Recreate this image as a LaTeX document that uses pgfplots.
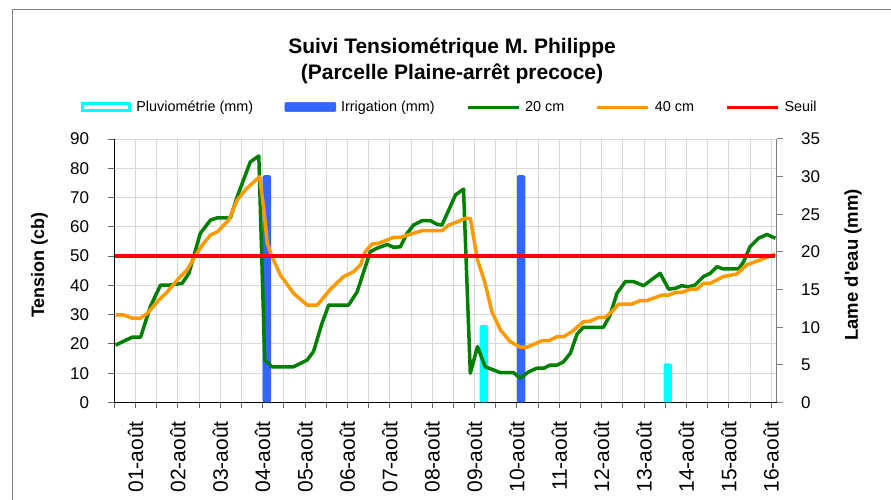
\documentclass[border=0pt]{standalone}
\usepackage{pgfplots}
\pgfplotsset{compat=1.18}
\usepackage{fontspec}
\setmainfont{Liberation Sans}

\definecolor{cyanx}{HTML}{00FFFF}
\definecolor{blueirr}{HTML}{3366FF}
\definecolor{green20}{HTML}{008000}
\definecolor{orange40}{HTML}{FF9900}
\definecolor{redseuil}{HTML}{FF0000}
\definecolor{gridc}{HTML}{D9D9D9}
\definecolor{framec}{HTML}{808080}

\pgfplotsset{
  base/.style={at={(114.3pt,97.5pt)}, anchor=south west, scale only axis,
    width=662.4pt, height=263.5pt, xmin=0.5, xmax=16.13},
}

\begin{document}
\begin{tikzpicture}[x=1pt,y=1pt]
\path[use as bounding box] (0,0) rectangle (891,500);
\draw[framec, line width=1.5pt] (12.3,-2) -- (12.3,490.7) -- (893,490.7);

% Axis A: left scale, grid, ticks
\begin{axis}[base, ymin=0, ymax=90,
  axis x line*=bottom, axis y line*=left,
  xtick={1,...,16}, minor xtick={0.5,1.5,...,15.5},
  xticklabels={01-août,02-août,03-août,04-août,05-août,06-août,07-août,08-août,09-août,10-août,11-août,12-août,13-août,14-août,15-août,16-août},
  ytick={0,10,...,90},
  grid=both,
  major grid style={gridc, line width=0.9pt},
  minor grid style={gridc, line width=0.9pt},
  tick align=outside, major tick length=6pt, minor tick length=6pt,
  tick style={color=black!60, line width=0.9pt},
  axis line style={black, line width=1pt},
  x tick label style={yshift=-12.5pt, rotate=90, anchor=east, inner sep=0pt, font=\fontsize{21}{21}\selectfont},
  y tick label style={anchor=east, inner sep=0pt, xshift=-19pt, font=\fontsize{17}{17}\selectfont},
  /pgf/number format/assume math mode=true,
]
\addplot[draw=none] coordinates {(1,0)};
\end{axis}

% Axis B: right scale, bars
\begin{axis}[base, ymin=0, ymax=35,
  axis x line=none, axis y line*=right,
  ytick={0,5,...,35},
  tick align=outside, major tick length=6pt,
  ytick style={color=framec, line width=1pt},
  y axis line style={framec, line width=1.5pt},
  y tick label style={anchor=west, inner sep=0pt, xshift=18.3pt, font=\fontsize{17}{17}\selectfont},
  /pgf/number format/assume math mode=true,
]
\addplot[ybar, bar shift=0pt, bar width=8.3pt, fill=cyanx, draw=none, rounded corners=2pt] coordinates {(9.22,10.3) (13.56,5.2)};
\addplot[ybar, bar shift=0pt, bar width=8.3pt, fill=blueirr, draw=none, rounded corners=2pt] coordinates {(4.10,30.2) (10.10,30.2)};
\end{axis}

% Axis C: lines and legend
\begin{axis}[base, ymin=0, ymax=90, hide axis,
  legend columns=5,
  legend style={at={(0.5068,1.1214)}, anchor=center, draw=none, fill=none,
    font=\fontsize{14.4}{16}\selectfont,
    /tikz/every odd column/.append style={column sep=3pt},
    /tikz/every even column/.append style={column sep=29.5pt}},
  legend image code/.code={\draw[#1, line width=3pt] (0pt,0pt) -- (51pt,0pt);},
]
\addlegendimage{legend image code/.code={\draw[draw=cyanx, line width=3pt, fill=white] (1.5pt,-3.1pt) rectangle (48.5pt,3.1pt);}}
\addlegendentry{Pluviométrie (mm)}
\addlegendimage{legend image code/.code={\fill[blueirr, rounded corners=1pt] (0pt,-4.6pt) rectangle (51pt,4.6pt);}}
\addlegendentry{Irrigation (mm)}

\addplot[green20, line width=3.5pt, line join=round] coordinates {
(0.53,19.6) (0.92,22.3) (1.12,22.3) (1.35,32.7) (1.59,40.1) (1.79,40.1) (2.1,40.7) (2.26,44.1) (2.53,57.8) (2.77,62.3) (2.93,63.1) (3.24,63.1) (3.4,70.3) (3.71,82.2) (3.91,84.2) (4.05,14.5) (4.22,12.2) (4.73,12.2) (5.05,14.5) (5.2,17.4) (5.4,27) (5.56,33.3) (6.03,33.3) (6.23,37.8) (6.54,51.5) (6.7,52.7) (6.94,54) (7.09,53) (7.25,53.2) (7.41,57.8) (7.56,60.6) (7.76,62.1) (7.96,62.1) (8.11,60.9) (8.23,60.6) (8.39,65.7) (8.55,70.9) (8.74,72.9) (8.9,10) (9.07,19.1) (9.25,12.2) (9.61,10.2) (9.92,10.2) (10.08,8.3) (10.28,10.5) (10.47,11.7) (10.63,11.7) (10.79,12.8) (10.95,12.8) (11.1,13.9) (11.26,16.8) (11.42,23.4) (11.57,25.7) (12.04,25.7) (12.2,29.9) (12.36,37.3) (12.56,41.3) (12.75,41.3) (12.99,39.9) (13.19,42.1) (13.38,44.1) (13.58,38.7) (13.74,39) (13.89,39.9) (14.05,39.5) (14.2,40.1) (14.4,43) (14.56,44.1) (14.72,46.4) (14.87,45.6) (15.23,45.6) (15.35,48.1) (15.5,53.2) (15.7,56.1) (15.9,57.4) (16.1,56.1)
};
\addlegendentry{20 cm}

\addplot[orange40, line width=3.5pt, line join=round] coordinates {
(0.53,29.9) (0.72,29.9) (0.92,28.8) (1.12,28.8) (1.28,30.5) (1.55,35) (1.75,37.8) (2.02,42.4) (2.22,45.3) (2.45,51) (2.61,54.4) (2.77,57.2) (2.93,58.3) (3.2,62.3) (3.4,69.2) (3.63,73.2) (3.93,77.1) (4.03,65.7) (4.11,54.4) (4.22,49.8) (4.42,43.5) (4.73,37.3) (5.05,33.3) (5.29,33.3) (5.6,38.7) (5.91,43) (6.15,44.7) (6.31,47) (6.42,51.5) (6.58,54.1) (6.74,54.4) (7.09,56.4) (7.25,56.4) (7.49,57.5) (7.76,58.7) (8.23,58.7) (8.39,60.6) (8.59,61.7) (8.78,62.9) (8.9,62.9) (9.07,48.7) (9.25,40.7) (9.41,31) (9.61,24.8) (9.84,20.8) (10.08,18.9) (10.24,18.9) (10.59,21.1) (10.75,21.1) (10.95,22.5) (11.1,22.5) (11.3,24.2) (11.57,27.6) (11.73,27.8) (11.93,29.1) (12.08,29.1) (12.24,31) (12.4,33.6) (12.71,33.6) (12.91,34.8) (13.07,34.8) (13.42,36.7) (13.58,36.7) (13.74,37.6) (13.89,37.6) (14.09,38.7) (14.25,38.7) (14.4,40.7) (14.56,40.7) (14.87,43) (15.19,43.9) (15.42,47) (15.74,48.7) (16.1,50.7)
};
\addlegendentry{40 cm}

\addplot[redseuil, line width=4pt] coordinates {(0.52,50) (16.1,50)};
\addlegendentry{Seuil}
\end{axis}

\node[font=\bfseries\fontsize{21}{21}\selectfont, anchor=base] at (452,446.7) {Suivi Tensiométrique M. Philippe};
\node[font=\bfseries\fontsize{21}{21}\selectfont, anchor=base] at (452,420) {(Parcelle Plaine-arrêt precoce)};
\node[rotate=90, font=\bfseries\fontsize{18}{18}\selectfont] at (39.5,235) {Tension (cb)};
\node[rotate=90, font=\bfseries\fontsize{18.5}{18.5}\selectfont] at (853,235) {Lame d\textquotesingle eau (mm)};
\end{tikzpicture}
\end{document}
